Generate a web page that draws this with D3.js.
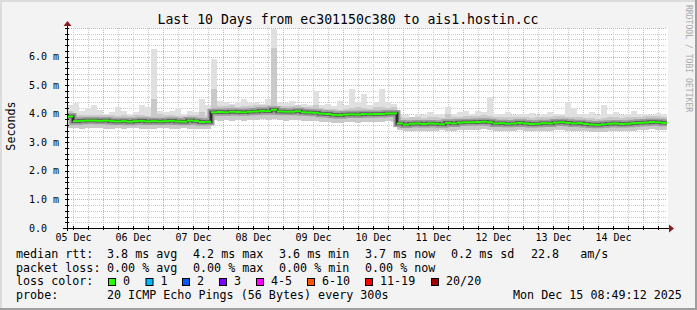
<!DOCTYPE html>
<html>
<head>
<meta charset="utf-8">
<script src="https://cdn.jsdelivr.net/npm/d3@7"></script>
<style>
html, body { margin: 0; padding: 0; background: #f3f3f3; }
svg text { font-family: "DejaVu Sans Mono", monospace; white-space: pre; }
</style>
</head>
<body>
<svg id="chart" width="697" height="310"></svg>
<script>
// Textes
const titleText = "Last 10 Days from ec301150c380 to ais1.hostin.cc";
const yAxisTitle = "Seconds";
const watermark = "RRDTOOL / TOBI OETIKER";
const yTickValues = [0, 1, 2, 3, 4, 5, 6];
const yTickLabels = ["0.0", "1.0 m", "2.0 m", "3.0 m", "4.0 m", "5.0 m", "6.0 m"];
const dayLabels = ["05 Dec", "06 Dec", "07 Dec", "08 Dec", "09 Dec", "10 Dec", "11 Dec", "12 Dec", "13 Dec", "14 Dec"];

// Médiane (ms) par tranche de 2.4 h
const median = [
  3.90, 3.74, 3.75, 3.76, 3.76, 3.75, 3.76, 3.74, 3.73, 3.74,
  3.72, 3.74, 3.75, 3.73, 3.74, 3.73, 3.74, 3.75, 3.73, 3.72,
  3.76, 3.74, 3.71, 3.72, 4.05, 4.06, 4.05, 4.07, 4.06, 4.05,
  4.07, 4.08, 4.10, 4.09, 4.14, 4.08, 4.07, 4.07, 4.09, 4.05,
  4.04, 4.03, 4.00, 3.99, 3.96, 3.95, 3.97, 3.98, 3.97, 3.99,
  3.98, 3.99, 3.99, 4.01, 4.01, 3.66, 3.62, 3.65, 3.66, 3.64,
  3.66, 3.65, 3.63, 3.68, 3.66, 3.69, 3.70, 3.70, 3.71, 3.72,
  3.70, 3.66, 3.67, 3.65, 3.66, 3.68, 3.66, 3.64, 3.65, 3.67,
  3.66, 3.69, 3.70, 3.68, 3.66, 3.67, 3.64, 3.62, 3.61, 3.63,
  3.65, 3.66, 3.64, 3.65, 3.67, 3.68, 3.69, 3.71, 3.70, 3.68
];
// bas de la fumée
const smokeLo = [
  3.49, 3.50, 3.48, 3.50, 3.49, 3.50, 3.47, 3.48, 3.50, 3.46,
  3.49, 3.50, 3.47, 3.48, 3.46, 3.49, 3.50, 3.48, 3.47, 3.50,
  3.48, 3.46, 3.47, 3.45, 3.78, 3.76, 3.77, 3.75, 3.78, 3.76,
  3.77, 3.79, 3.80, 3.78, 3.80, 3.77, 3.76, 3.78, 3.77, 3.75,
  3.74, 3.73, 3.70, 3.70, 3.68, 3.67, 3.70, 3.70, 3.69, 3.71,
  3.70, 3.72, 3.71, 3.73, 3.72, 3.42, 3.38, 3.40, 3.41, 3.39,
  3.40, 3.38, 3.42, 3.41, 3.41, 3.43, 3.44, 3.42, 3.44, 3.45,
  3.43, 3.40, 3.41, 3.39, 3.40, 3.42, 3.40, 3.38, 3.39, 3.41,
  3.40, 3.42, 3.43, 3.41, 3.40, 3.41, 3.38, 3.36, 3.35, 3.37,
  3.39, 3.40, 3.38, 3.39, 3.41, 3.42, 3.43, 3.45, 3.44, 3.42
];
// haut de la fumée dense
const smokeHi = [
  4.10, 3.95, 3.94, 3.96, 3.97, 3.95, 3.96, 3.94, 3.93, 3.95,
  3.92, 3.94, 3.96, 3.93, 4.50, 3.98, 3.94, 3.95, 3.93, 3.92,
  3.96, 3.95, 4.05, 3.93, 4.85, 4.28, 4.26, 4.30, 4.25, 4.27,
  4.28, 4.30, 4.32, 4.30, 6.30, 4.28, 4.27, 4.26, 4.30, 4.25,
  4.24, 4.30, 4.20, 4.18, 4.15, 4.14, 4.18, 4.20, 4.22, 4.20,
  4.18, 4.22, 4.24, 4.20, 4.22, 3.90, 3.84, 3.87, 3.88, 3.86,
  3.88, 3.87, 3.85, 4.00, 3.88, 3.90, 3.92, 3.92, 3.93, 3.94,
  3.92, 3.88, 3.89, 3.87, 3.88, 3.90, 3.88, 3.86, 3.87, 3.89,
  3.88, 3.91, 3.92, 3.90, 3.88, 3.89, 3.86, 3.84, 3.83, 3.85,
  3.87, 3.88, 3.86, 3.87, 3.89, 3.90, 3.91, 3.93, 3.92, 3.90
];
// pic (ping le plus lent)
const smokePeak = [
  4.30, 4.36, 4.10, 4.20, 4.30, 4.12, 4.00, 4.05, 4.25, 4.10,
  4.00, 4.05, 4.30, 4.25, 6.25, 4.10, 4.05, 4.10, 4.20, 4.00,
  4.10, 4.05, 4.50, 4.30, 5.90, 4.45, 4.40, 4.35, 4.40, 4.50,
  4.38, 4.42, 4.35, 4.50, 6.95, 4.40, 4.38, 4.45, 4.30, 4.35,
  4.30, 4.78, 4.30, 4.35, 4.28, 4.45, 4.30, 4.85, 4.40, 4.68,
  4.30, 4.40, 4.85, 4.40, 4.35, 4.00, 3.95, 3.90, 4.00, 3.95,
  4.05, 3.98, 4.00, 4.25, 4.00, 4.05, 4.10, 4.00, 4.10, 4.05,
  4.60, 4.00, 3.98, 4.05, 3.95, 4.00, 3.98, 4.02, 3.95, 4.00,
  4.05, 3.98, 4.00, 4.40, 4.20, 3.98, 4.00, 4.05, 3.95, 4.30,
  4.00, 4.05, 3.95, 4.00, 4.10, 3.98, 4.00, 3.95, 4.02, 3.98
];

// Légende
const legendLabels = ["median rtt:", "packet loss:", "loss color:", "probe:"];
const rttStats = ["3.8 ms avg", "4.2 ms max", "3.6 ms min", "3.7 ms now", "0.2 ms sd", "22.8   am/s"];
const lossStats = ["0.00 % avg", "0.00 % max", "0.00 % min", "0.00 % now"];
const lossNames = ["0", "1", "2", "3", "4-5", "6-10", "11-19", "20/20"];
const lossColors = ["#26ff00", "#00b8ff", "#0059ff", "#7e00ff", "#ff00ff", "#ff5500", "#ff0000", "#a10000"];
const probeText = "20 ICMP Echo Pings (56 Bytes) every 300s";
const dateText = "Mon Dec 15 08:49:12 2025";

// Dimensions
const W = 697, H = 310;
const plot = {left: 67, right: 667, top: 28, bottom: 228};
const statX = [107, 193, 279, 365, 451, 531];
const swatchX = [108, 145.5, 182, 219, 256, 307, 365, 431];
const rowY = [258, 271.5, 285, 298.5];

const svg = d3.select("#chart");

// fond et bordure 3D
svg.append("rect").attr("width", W).attr("height", H).attr("fill", "#f3f3f3");
svg.append("rect").attr("x", 0).attr("y", 0).attr("width", W).attr("height", 2).attr("fill", "#dcdcdc");
svg.append("rect").attr("x", 0).attr("y", 0).attr("width", 2).attr("height", H).attr("fill", "#dcdcdc");
svg.append("rect").attr("x", 0).attr("y", H - 2).attr("width", W).attr("height", 2).attr("fill", "#9e9e9e");
svg.append("rect").attr("x", W - 2).attr("y", 0).attr("width", 2).attr("height", H).attr("fill", "#9e9e9e");

// Echelles
const start = new Date(Date.UTC(2025, 11, 5, 9, 36));
const end = new Date(Date.UTC(2025, 11, 15, 9, 36));
const binMs = (end - start) / median.length;
const binStart = i => new Date(+start + i * binMs);

const x = d3.scaleUtc().domain([start, end]).range([plot.left, plot.right]);
const y = d3.scaleLinear().domain([0, 7]).range([plot.bottom, plot.top]);
const px = v => Math.round(v) + 0.5;

// canevas
svg.append("rect")
  .attr("x", plot.left).attr("y", plot.top)
  .attr("width", plot.right - plot.left + 1).attr("height", plot.bottom - plot.top)
  .attr("fill", "#ffffff");

// Grille
const grid = svg.append("g").attr("shape-rendering", "crispEdges");
const majorY = y.ticks(7);
const minorY = y.ticks(35).filter(v => majorY.indexOf(v) < 0);
const minorX = d3.utcHour.every(6).range(start, end).filter(d => d.getUTCHours() !== 0);
const majorX = d3.utcDay.range(start, end);

grid.selectAll(".minY").data(minorY).enter().append("line")
  .attr("x1", plot.left).attr("x2", plot.right)
  .attr("y1", d => px(y(d))).attr("y2", d => px(y(d)))
  .attr("stroke", "#c8c8c8").attr("stroke-dasharray", "1,1");
grid.selectAll(".minX").data(minorX).enter().append("line")
  .attr("y1", plot.top).attr("y2", plot.bottom)
  .attr("x1", d => px(x(d))).attr("x2", d => px(x(d)))
  .attr("stroke", "#c8c8c8").attr("stroke-dasharray", "1,1");
grid.selectAll(".majY").data(majorY.filter(v => v > 0)).enter().append("line")
  .attr("x1", plot.left).attr("x2", plot.right)
  .attr("y1", d => px(y(d))).attr("y2", d => px(y(d)))
  .attr("stroke", "#f2a0a0").attr("stroke-dasharray", "1,1");
grid.selectAll(".majX").data(majorX).enter().append("line")
  .attr("y1", plot.top).attr("y2", plot.bottom)
  .attr("x1", d => px(x(d))).attr("x2", d => px(x(d)))
  .attr("stroke", "#f2a0a0").attr("stroke-dasharray", "1,1");

// Fumée
const bins = d3.range(median.length).map(i => ({
  t0: binStart(i), t1: binStart(i + 1),
  med: median[i], lo: smokeLo[i], hi: smokeHi[i], peak: smokePeak[i]
}));
const smoke = svg.append("g").attr("shape-rendering", "crispEdges");
smoke.selectAll(".peak").data(bins).enter().append("rect")
  .attr("x", d => Math.round(x(d.t0))).attr("width", d => Math.round(x(d.t1)) - Math.round(x(d.t0)))
  .attr("y", d => Math.round(y(d.peak))).attr("height", d => Math.round(y(d.lo)) - Math.round(y(d.peak)))
  .attr("fill", "#e0e0e0");
smoke.selectAll(".hi").data(bins).enter().append("rect")
  .attr("x", d => Math.round(x(d.t0))).attr("width", d => Math.round(x(d.t1)) - Math.round(x(d.t0)))
  .attr("y", d => Math.round(y(d.hi))).attr("height", d => Math.round(y(d.lo)) - Math.round(y(d.hi)))
  .attr("fill", "#c9c9c9");

// Médiane
const stepData = bins.map(d => [x(d.t0), y(d.med)]);
stepData.push([x(end), y(median[median.length - 1])]);
const stepLine = d3.line().curve(d3.curveStepAfter);
svg.append("path").attr("d", stepLine(stepData))
  .attr("fill", "none").attr("stroke", "#9c9c9c").attr("stroke-width", 7);
svg.append("path").attr("d", stepLine(stepData))
  .attr("fill", "none").attr("stroke", "#5a5a5a").attr("stroke-width", 3.5);
svg.append("path").attr("d", stepLine(stepData))
  .attr("fill", "none").attr("stroke", "#000").attr("stroke-width", 1);
svg.append("g").selectAll("line").data(bins).enter().append("line")
  .attr("x1", d => x(d.t0)).attr("x2", d => x(d.t1))
  .attr("y1", d => y(d.med)).attr("y2", d => y(d.med))
  .attr("stroke", lossColors[0]).attr("stroke-width", 2);

// Axes
const axes = svg.append("g").attr("shape-rendering", "crispEdges");
axes.append("line").attr("x1", px(plot.left)).attr("x2", px(plot.left))
  .attr("y1", plot.top - 4).attr("y2", plot.bottom + 3).attr("stroke", "#000");
axes.append("line").attr("x1", plot.left - 4).attr("x2", plot.right + 3)
  .attr("y1", px(plot.bottom)).attr("y2", px(plot.bottom)).attr("stroke", "#000");
// graduations
axes.selectAll(".ty").data(majorY.concat(minorY)).enter().append("line")
  .attr("x1", plot.left - 2).attr("x2", plot.left + 2)
  .attr("y1", d => px(y(d))).attr("y2", d => px(y(d))).attr("stroke", "#000");
axes.selectAll(".tx").data(majorX.concat(minorX)).enter().append("line")
  .attr("x1", d => px(x(d))).attr("x2", d => px(x(d)))
  .attr("y1", plot.bottom - 2).attr("y2", plot.bottom + 2).attr("stroke", "#000");
// flèches
svg.append("path")
  .attr("d", `M${plot.left - 3.5},${plot.top - 2}L${plot.left + 0.5},${plot.top - 7}L${plot.left + 4.5},${plot.top - 2}Z`)
  .attr("fill", "#8b1a1a");
svg.append("path")
  .attr("d", `M${plot.right + 2},${plot.bottom - 3.5}L${plot.right + 7},${plot.bottom + 0.5}L${plot.right + 2},${plot.bottom + 4.5}Z`)
  .attr("fill", "#8b1a1a");

// Libellés des axes
svg.selectAll(".ylab").data(yTickValues).enter().append("text")
  .attr("x", 29).attr("y", d => y(d) + 3.5)
  .attr("font-size", "10px").attr("fill", "#000")
  .text((d, i) => yTickLabels[i]);

const dayDates = d3.utcDay.range(new Date(Date.UTC(2025, 11, 5)), new Date(Date.UTC(2025, 11, 15)));
svg.selectAll(".xlab").data(dayDates).enter().append("text")
  .attr("x", d => x(d3.utcHour.offset(d, 12)) + 0.5).attr("y", 241)
  .attr("text-anchor", "middle").attr("font-size", "10px").attr("fill", "#000")
  .text((d, i) => dayLabels[i]);

svg.append("text").attr("x", 348).attr("y", 23.5)
  .attr("text-anchor", "middle").attr("font-size", "13.2px").attr("fill", "#000")
  .text(titleText);

svg.append("text").attr("transform", "translate(15,126) rotate(-90)")
  .attr("text-anchor", "middle").attr("font-size", "11.7px").attr("fill", "#000")
  .text(yAxisTitle);

svg.append("text").attr("transform", "translate(685.5,5) rotate(90)")
  .attr("font-size", "8.1px").attr("fill", "#aaaaaa")
  .text(watermark);

// Légende
const legend = svg.append("g").attr("font-size", "11.7px").attr("fill", "#000");
legend.selectAll(".lab").data(legendLabels).enter().append("text")
  .attr("x", 16).attr("y", (d, i) => rowY[i]).text(d => d);
legend.selectAll(".rtt").data(rttStats).enter().append("text")
  .attr("x", (d, i) => statX[i]).attr("y", rowY[0]).text(d => d);
legend.selectAll(".loss").data(lossStats).enter().append("text")
  .attr("x", (d, i) => statX[i]).attr("y", rowY[1]).text(d => d);
legend.selectAll(".sw").data(lossColors).enter().append("rect")
  .attr("x", (d, i) => swatchX[i] + 0.5).attr("y", rowY[2] - 6.5)
  .attr("width", 7).attr("height", 7)
  .attr("fill", d => d).attr("stroke", "#000").attr("stroke-width", 1);
legend.selectAll(".swl").data(lossNames).enter().append("text")
  .attr("x", (d, i) => swatchX[i] + 15).attr("y", rowY[2]).text(d => d);
legend.append("text").attr("x", statX[0]).attr("y", rowY[3]).text(probeText);
legend.append("text").attr("x", 513).attr("y", rowY[3]).text(dateText);
</script>
</body>
</html>
